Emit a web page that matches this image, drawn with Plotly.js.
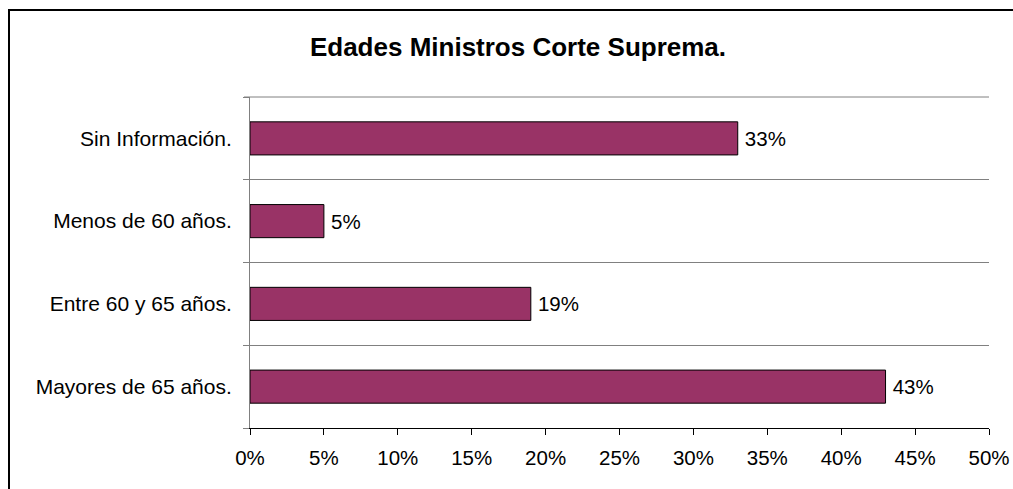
<!DOCTYPE html>
<html><head><meta charset="utf-8">
<script src="https://cdn.plot.ly/plotly-3.0.1.min.js"></script>
<style>
html,body{margin:0;padding:0;background:#fff;}
#wrap{position:relative;width:1013px;height:489px;overflow:hidden;}
#frame{position:absolute;left:8px;top:9px;width:1100px;height:600px;border-left:2px solid #000;border-top:2px solid #000;box-sizing:border-box;pointer-events:none;z-index:5;}
#chart{position:absolute;left:0;top:0;width:1013px;height:489px;}
</style></head>
<body><div id="wrap"><div id="chart"></div><div id="frame"></div></div>
<script>
const categories = ["Mayores de 65 años.", "Entre 60 y 65 años.", "Menos de 60 años.", "Sin Información."];
const values = [0.43, 0.19, 0.05, 0.33];
const labels = values.map(v => "\u2009" + Math.round(v*100) + "%");
const xTicks = [0,0.05,0.10,0.15,0.20,0.25,0.30,0.35,0.40,0.45,0.50];
const xTickText = xTicks.map(v => Math.round(v*100) + "%");

const font = "Liberation Sans, Arial, sans-serif";
Plotly.newPlot("chart", [{
  type: "bar", orientation: "h",
  y: categories, x: values,
  text: labels, textposition: "outside", cliponaxis: false,
  textfont: {family: font, size: 20.5, color: "#000"},
  marker: {color: "#993366", line: {color: "#000", width: 1}},
  width: 0.4, hoverinfo: "none"
}], {
  width: 1013, height: 489,
  margin: {l: 250, r: 24, t: 97, b: 61},
  paper_bgcolor: "#fff", plot_bgcolor: "#fff",
  showlegend: false,
  title: {text: "<b>Edades Ministros Corte Suprema.</b>", x: 518/1013, xref: "container", xanchor: "center", y: 0.905, yanchor: "middle",
    font: {family: font, size: 26, color: "#000"}},
  xaxis: {range: [0, 0.5], tickvals: xTicks, ticktext: xTickText,
    showgrid: false, zeroline: false, showline: true, linecolor: "#000", linewidth: 1,
    ticks: "outside", ticklen: 6, tickcolor: "#000", ticklabelstandoff: 5,
    tickfont: {family: font, size: 20.5, color: "#000"}, fixedrange: true},
  yaxis: {type: "category", categoryorder: "array", categoryarray: categories,
    tickson: "boundaries", ticks: "outside", ticklen: 6, tickcolor: "#808080",
    showgrid: true, gridcolor: "#808080", gridwidth: 1,
    showline: true, linecolor: "#808080", linewidth: 1, ticklabelstandoff: 13,
    tickfont: {family: font, size: 21, color: "#000"}, fixedrange: true},
  shapes: [{type: "line", xref: "paper", yref: "paper", x0: -6/739, x1: 1, y0: 1, y1: 1,
    line: {color: "#808080", width: 1}}],
  bargap: 0.6
}, {staticPlot: true});
</script></body></html>
